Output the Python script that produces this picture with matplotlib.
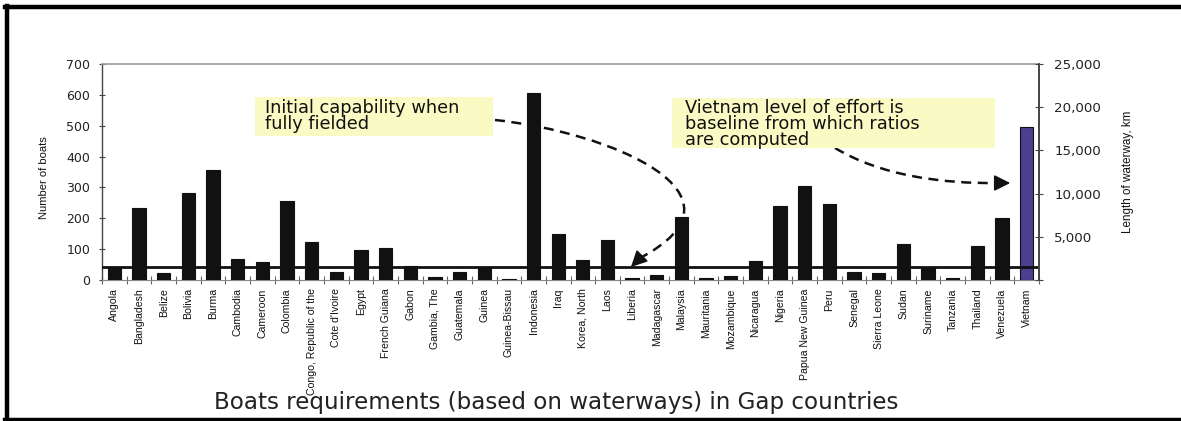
import matplotlib
matplotlib.use('Agg')
import matplotlib.pyplot as plt
from matplotlib.patches import Rectangle, PathPatch, FancyArrowPatch
from matplotlib.path import Path
from matplotlib.lines import Line2D
from matplotlib import font_manager
from matplotlib.font_manager import FontProperties
import numpy as np

# ---------------- data ----------------
countries = ["Angola", "Bangladesh", "Belize", "Bolivia", "Burma", "Cambodia",
             "Cameroon", "Colombia", "Congo, Republic of the", "Cote d'Ivoire",
             "Egypt", "French Guiana", "Gabon", "Gambia, The", "Guatemala",
             "Guinea", "Guinea-Bissau", "Indonesia", "Iraq", "Korea, North",
             "Laos", "Liberia", "Madagascar", "Malaysia", "Mauritania",
             "Mozambique", "Nicaragua", "Nigeria", "Papua New Guinea", "Peru",
             "Senegal", "Sierra Leone", "Sudan", "Suriname", "Tanzania",
             "Thailand", "Venezuela", "Vietnam"]
boats = [42, 233, 22, 281, 358, 68,
         58, 256, 124, 27,
         97, 104, 45, 11, 26,
         40, 3, 607, 148, 64,
         129, 6, 16, 204, 7,
         13, 61, 240, 306, 247,
         27, 24, 116, 39, 7,
         111, 201, 497]
baseline_boats = 42
highlight = "Vietnam"
boat_ticks = [0, 100, 200, 300, 400, 500, 600, 700]
km_ticks = [0, 5000, 10000, 15000, 20000, 25000]
km_labels = ["", "5,000", "10,000", "15,000", "20,000", "25,000"]

title = "Boats requirements (based on waterways) in Gap countries"
ylabel_left = "Number of boats"
ylabel_right = "Length of waterway, km"
note1 = ["Initial capability when", "fully fielded"]
note2 = ["Vietnam level of effort is", "baseline from which ratios", "are computed"]

# ---------------- fonts ----------------
narrow_family = ["Liberation Sans", "DejaVu Sans"]

W, H = 1181, 421
fig = plt.figure(figsize=(W / 100, H / 100), dpi=100)
fig.patch.set_facecolor("white")


def P(x, y):
    return (x / W, 1 - y / H)


ax = fig.add_axes([102 / W, 1 - 280 / H, (1039 - 102) / W, (280 - 64) / H])
x = np.arange(len(countries))
colors = ["#4b3f8e" if c == highlight else "#111111" for c in countries]
ax.bar(x, boats, width=0.54, color=colors, edgecolor="#111111", linewidth=0.8, zorder=3)
ax.axhline(baseline_boats, color="#111111", lw=2, zorder=4)

ax.set_xlim(-0.5, len(countries) - 0.5)
ax.set_ylim(0, 700)
ax.set_yticks(boat_ticks)
ax.set_yticklabels([str(v) for v in boat_ticks], fontsize=9, family="DejaVu Sans", color="#222")
ax.tick_params(axis="y", direction="inout", length=5, width=0.8, color="#444", pad=6)

ax.set_xticks(x)
ax.set_xticklabels(countries, rotation=90, family=narrow_family, fontsize=7.6, color="#111")
ax.set_xticks(np.arange(len(countries) + 1) - 0.5, minor=True)
ax.tick_params(axis="x", which="major", length=0, pad=6)
ax.tick_params(axis="x", which="minor", length=6, direction="inout", color="#666", width=0.8)

ax.spines["top"].set_color("#999")
ax.spines["top"].set_linewidth(1.2)
ax.spines["bottom"].set_color("#888")
ax.spines["bottom"].set_linewidth(0.8)
ax.spines["left"].set_color("#444")
ax.spines["left"].set_linewidth(1.0)
ax.spines["right"].set_color("#444")
ax.spines["right"].set_linewidth(1.2)

ax2 = ax.twinx()
ax2.set_ylim(0, 25000)
ax2.set_yticks(km_ticks)
ax2.set_yticklabels(km_labels, fontsize=9.6, family="DejaVu Sans", color="#222")
ax2.tick_params(axis="y", direction="inout", length=6, width=0.8, color="#444", pad=8)
for s in ["top", "bottom", "left"]:
    ax2.spines[s].set_visible(False)
ax2.spines["right"].set_color("#444")
ax2.spines["right"].set_linewidth(1.2)

fig.text(44 / W, 1 - 178 / H, ylabel_left, rotation=90, ha="center", va="center",
         family=narrow_family, fontsize=8, color="#111")
fig.text(1128 / W, 1 - 172 / H, ylabel_right, rotation=90, ha="center", va="center",
         family=narrow_family, fontsize=8.4, color="#111")

# ---------------- annotation boxes ----------------
box_col = "#fafac4"
fig.patches.append(Rectangle(P(255, 136), (493 - 255) / W, (136 - 97) / H,
                             transform=fig.transFigure, facecolor=box_col,
                             edgecolor="none", zorder=5))
fig.patches.append(Rectangle(P(672, 148), (995 - 672) / W, (148 - 98) / H,
                             transform=fig.transFigure, facecolor=box_col,
                             edgecolor="none", zorder=5))
for i, line in enumerate(note1):
    fig.text(*P(265, 108 + 16 * i), line, ha="left", va="center", fontsize=12.8,
             family="DejaVu Sans", color="#111", zorder=6)
for i, line in enumerate(note2):
    fig.text(*P(685, 108 + 16 * i), line, ha="left", va="center", fontsize=12.8,
             family="DejaVu Sans", color="#111", zorder=6)


# ---------------- dashed arrows ----------------
def dashed_curve(pts):
    verts = [P(*p) for p in pts]
    codes = [Path.MOVETO, Path.CURVE4, Path.CURVE4, Path.CURVE4]
    patch = PathPatch(Path(verts, codes), transform=fig.transFigure, fill=False,
                      edgecolor="#111", lw=1.8, linestyle=(0, (4, 2.6)), zorder=2)
    fig.patches.append(patch)


def head(a, b):
    fig.patches.append(FancyArrowPatch(P(*a), P(*b), transform=fig.transFigure,
                                       arrowstyle="-|>,head_length=0.7,head_width=0.35",
                                       mutation_scale=14, color="#111", lw=1.2, zorder=2))


dashed_curve([(495, 120), (610, 132), (760, 195), (640, 258)])
head((642, 256), (629, 269))
dashed_curve([(835, 148), (880, 175), (940, 184), (1000, 183)])
head((996, 183), (1013, 183))

# ---------------- caption & frame ----------------
fig.text(556 / W, 1 - 403 / H, title, ha="center", va="center", fontsize=16.6,
         family="DejaVu Sans", color="#222")

fig.lines.append(Line2D([7 / W, 7 / W], [1 - 6 / H, 0], transform=fig.transFigure,
                        color="black", lw=3.2))
fig.lines.append(Line2D([5 / W, 1], [1 - 7 / H, 1 - 7 / H], transform=fig.transFigure,
                        color="black", lw=3.2))
fig.lines.append(Line2D([5 / W, 1], [1 - 420 / H, 1 - 420 / H], transform=fig.transFigure,
                        color="black", lw=3.2))

fig.savefig("out.png", dpi=100)
